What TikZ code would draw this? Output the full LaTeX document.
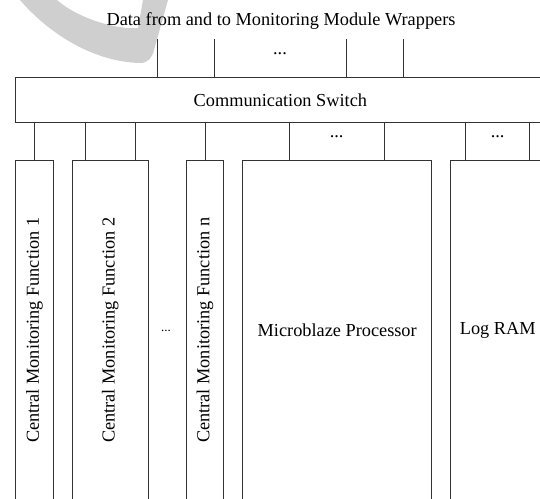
\documentclass[tikz,border=0pt]{standalone}
\usepackage{fontspec}
\setmainfont{Liberation Serif}
\usepackage{tikz}

\begin{document}
\begin{tikzpicture}[x=1pt,y=-1pt,line width=.9pt,
	block_node/.style={rectangle,draw=black!80,inner sep=0pt,font=\fontsize{18.3}{22}\selectfont},
	func_node/.style={block_node,minimum height=339.3pt},
	label_node/.style={inner sep=0pt,font=\fontsize{18.3}{22}\selectfont},
	dots_node/.style={inner sep=0pt,font=\fontsize{13}{15}\selectfont},
	wire/.style={draw=black!80}]

		\useasboundingbox (0,0) rectangle (540,498);
		\clip (0,0) rectangle (540,498);

		% grey mark in the upper left corner
		\fill[black!19] (20,0) .. controls (50,35) and (95,62) .. (140,63)
			.. controls (148,63) and (152,58) .. (154,50) -- (168,0) -- (143,0)
			-- (138,28) .. controls (120,30) and (80,20) .. (57,0) -- cycle;

		\node[label_node] (title) at (281,21){Data from and to Monitoring Module Wrappers};
		% (sw) is the switch, the boxes below hang from it
		\node[block_node,minimum width=529.3pt,minimum height=45.4pt] (sw) at (280.35,100){Communication Switch};

		\node[func_node,minimum width=37.6pt] (cmf1) at (34.5,330.35){\rotatebox{90}{Central Monitoring Function 1}};
		\node[func_node,minimum width=76pt] (cmf2) at (110.3,330.35){\rotatebox{90}{Central Monitoring Function 2}};
		\node[func_node,minimum width=36.6pt] (cmfn) at (205,330.35){\rotatebox{90}{Central Monitoring Function n}};
		\node[func_node,minimum width=189pt] (mb) at (337.2,330.35){Microblaze Processor};
		\node[func_node,minimum width=94.7pt] (ram) at (497.7,330.35){Log RAM};

		\node[label_node] (dtop) at (280,54){...};
		\node[label_node] (dmb) at (336.7,137){...};
		\node[label_node] (dram) at (497.7,137){...};
		\node[dots_node] (dcmf) at (166,330.5){...};

		% free ends of the wrapper lines above the switch
		\foreach \px/\nm in {157.7/w1,214.3/w2,346.7/w3,403.3/w4}
			\coordinate (\nm) at (\px,39.3);
		\foreach \nm in {w1,w2,w3,w4}
			\path[wire] (\nm) -- (\nm |- sw.north);

		% ports on top of the boxes
		\coordinate (p1) at (cmf1.north);
		\coordinate (p2) at ([xshift=13.7]cmf2.north west);
		\coordinate (p3) at ([xshift=-13.6]cmf2.north east);
		\coordinate (p4) at (cmfn.north);
		\coordinate (p5) at ([xshift=47.3]mb.north west);
		\coordinate (p6) at ([xshift=-47.4]mb.north east);
		\coordinate (p7) at ([xshift=15.7]ram.north west);
		\coordinate (p8) at ([xshift=79.7]ram.north west);
		\foreach \nm in {p1,p2,p3,p4,p5,p6,p7,p8}
			\path[wire] (\nm) -- (\nm |- sw.south);

	\end{tikzpicture}
\end{document}
